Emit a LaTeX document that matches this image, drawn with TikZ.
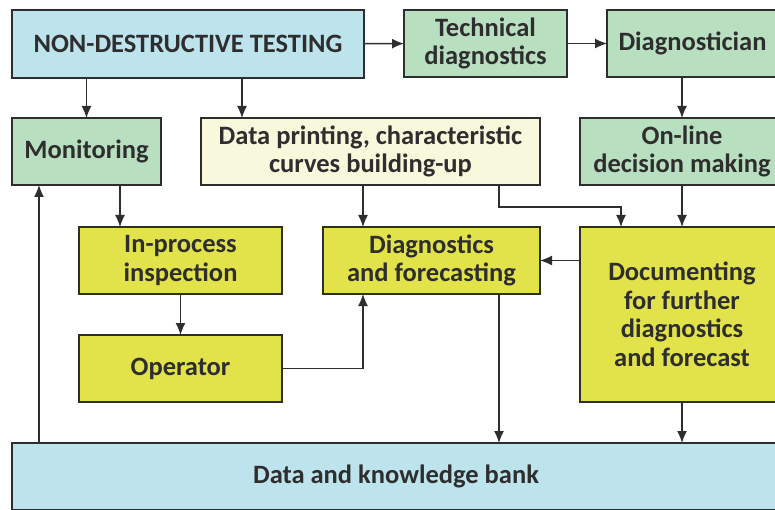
\documentclass[tikz,border=0pt]{standalone}
\usepackage{fontspec}
\setmainfont{Carlito}
\usetikzlibrary{arrows.meta}
\definecolor{ndtblue}{HTML}{BDE3EC}
\definecolor{boxgreen}{HTML}{B9DFC1}
\definecolor{boxcream}{HTML}{F8F8DC}
\definecolor{boxyellow}{HTML}{E2E24B}
\definecolor{ink}{HTML}{2E2E2E}
\tikzset{
    box/.style={draw=ink, line width=1.4pt, inner sep=0pt, outer sep=0pt, align=center,
        text=ink, font=\fontsize{26.5}{28.5}\selectfont\bfseries},
    arr/.style={draw=ink, line width=1.4pt, -{Latex[length=12pt,width=10pt]}}
}
\begin{document}
\begin{tikzpicture}[x=1pt,y=-1pt]
                \clip (0,0) rectangle (775,510);
                \fill[white] (0,0) rectangle (775,510);

                \node [box, fill=ndtblue, minimum width=352pt, minimum height=68pt] (ndt) at (188,44) {NON-DESTRUCTIVE TESTING};
                \node [box, fill=boxgreen, minimum width=163pt, minimum height=67pt] (tech) at (485.5,43.5) {Technical\\diagnostics};
                \node [box, fill=boxgreen, minimum width=171pt, minimum height=67pt] (diag) at (692.5,43.5) {Diagnostician};

                \node [box, fill=boxgreen, minimum width=149pt, minimum height=67pt] (mon) at (86.5,151.5) {Monitoring};
                \node [box, fill=boxcream, minimum width=339pt, minimum height=67pt] (dp) at (370.5,151.5) {Data printing, characteristic\\curves building-up};
                \node [box, fill=boxgreen, minimum width=204pt, minimum height=67pt] (onl) at (682,151.5) {On-line\\decision making};

                \node [box, fill=boxyellow, minimum width=203pt, minimum height=67pt] (ip) at (180.5,260.5) {In-process\\inspection};
                \node [box, fill=boxyellow, minimum width=217pt, minimum height=67pt] (df) at (431.5,260.5) {Diagnostics\\and forecasting};
                \node [box, fill=boxyellow, minimum width=204pt, minimum height=175pt] (doc) at (682,314.5) {Documenting\\for further\\diagnostics\\and forecast};
                \node [box, fill=boxyellow, minimum width=203pt, minimum height=67pt] (op) at (180.5,368.5) {Operator};

                \node [box, fill=ndtblue, minimum width=768pt, minimum height=67pt] (bank) at (396,476.5) {Data and knowledge bank};

                % points where the connectors meet the boxes
                \coordinate (dpin) at ([xshift=41pt]dp.north west);
                \coordinate (ipin) at ([xshift=41pt]ip.north west);
                \coordinate (dfin) at ([xshift=40pt]df.south west);
                \coordinate (dfout) at ([xshift=-41pt]df.south east);
                \coordinate (monin) at ([xshift=27pt]mon.south west);

                \draw[arr] (ndt) -- (tech);
                \draw[arr] (tech) -- (diag.west |- tech);
                \draw[arr] (ndt.south -| mon) -- (mon);
                \draw[arr] (ndt.south -| dpin) -- (dpin);
                \draw[arr] (diag.south -| onl) -- (onl);
                \draw[arr] (mon.south -| ipin) -- (ipin);
                \draw[arr] (dp.south -| dfin) -- (df.north -| dfin);
                \draw[arr] (dp.south -| dfout) -- ++(0,22) -| ([xshift=41pt]doc.north west);
                \draw[arr] (onl) -- (doc);
                \draw[arr] (doc.west |- df) -- (df);
                \draw[arr] (ip) -- (op);
                \draw[arr] (op.east) -| (dfin);
                \draw[arr] (dfout) -- (bank.north -| dfout);
                \draw[arr] (doc.south) -- (bank.north -| doc);
                \draw[arr] (bank.north -| monin) -- (monin);
            \end{tikzpicture}
\end{document}
